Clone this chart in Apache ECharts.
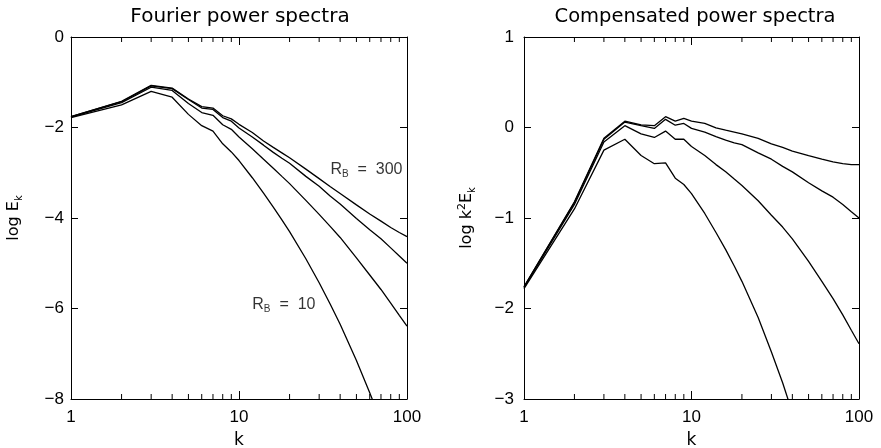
<!DOCTYPE html>
<html><head><meta charset="utf-8">
<script src="https://cdn.jsdelivr.net/npm/echarts@6/dist/echarts.min.js"></script>
<style>html,body{margin:0;padding:0;background:#fff}#c{width:881px;height:448px}</style>
</head><body><div id="c"></div>
<script>
// wavenumbers
const kValues = [1,2,3,4,5,6,7,8,9,10,12,14,16,18,20,25,30,35,40,50,60,70,80,90,100];
// Fourier power spectra, log E_k (top curve R_B = 300 ... bottom curve R_B = 10)
const logE_run1 = [-1.76,-1.42,-1.07,-1.13,-1.37,-1.54,-1.57,-1.74,-1.81,-1.93,-2.11,-2.30,-2.44,-2.56,-2.67,-2.92,-3.13,-3.31,-3.46,-3.71,-3.91,-4.07,-4.21,-4.32,-4.41];
const logE_run2 = [-1.76,-1.43,-1.08,-1.14,-1.38,-1.57,-1.60,-1.78,-1.86,-2.01,-2.21,-2.39,-2.55,-2.68,-2.79,-3.08,-3.30,-3.52,-3.69,-4.01,-4.26,-4.46,-4.66,-4.84,-5.00];
const logE_run3 = [-1.77,-1.45,-1.11,-1.18,-1.47,-1.67,-1.73,-1.94,-2.04,-2.21,-2.47,-2.70,-2.90,-3.08,-3.24,-3.61,-3.92,-4.19,-4.43,-4.88,-5.26,-5.58,-5.88,-6.15,-6.39];
const logE_run4 = [-1.78,-1.50,-1.20,-1.33,-1.71,-1.96,-2.08,-2.36,-2.54,-2.73,-3.11,-3.45,-3.76,-4.04,-4.30,-4.90,-5.43,-5.91,-6.35,-7.15,-7.86,-8.50];
// Compensated power spectra, log k^2 E_k
const logK2E_run1 = [-1.76,-0.82,-0.12,0.07,0.03,0.02,0.12,0.07,0.10,0.07,0.045,-0.005,-0.03,-0.05,-0.07,-0.12,-0.18,-0.22,-0.26,-0.31,-0.35,-0.38,-0.40,-0.41,-0.41];
const logK2E_run2 = [-1.76,-0.83,-0.13,0.06,0.02,-0.01,0.09,0.025,0.045,-0.01,-0.05,-0.10,-0.14,-0.17,-0.19,-0.28,-0.35,-0.43,-0.49,-0.61,-0.70,-0.77,-0.85,-0.93,-1.00];
const logK2E_run3 = [-1.77,-0.85,-0.16,0.02,-0.07,-0.11,-0.04,-0.13,-0.13,-0.21,-0.31,-0.41,-0.49,-0.57,-0.64,-0.81,-0.97,-1.10,-1.23,-1.48,-1.70,-1.89,-2.07,-2.24,-2.39];
const logK2E_run4 = [-1.78,-0.90,-0.25,-0.13,-0.31,-0.40,-0.39,-0.56,-0.63,-0.73,-0.95,-1.16,-1.35,-1.53,-1.70,-2.10,-2.48,-2.82,-3.15,-3.75,-4.30,-4.81];
// axis ticks
const leftYTicks = [-8,-6,-4,-2,0];
const rightYTicks = [-3,-2,-1,0,1];
const minorTickK = [2,3,4,5,6,7,8,9,20,30,40,50,60,70,80,90];
const titles = ['Fourier power spectra', 'Compensated power spectra'];

const NUM_FONT = 'Liberation Sans';
const TXT_FONT = 'DejaVu Sans';
const pairs = (vals) => vals.map((v, i) => [kValues[i], v]);
const fmtY = (v) => (v < 0 ? '\u2212' + (-v) : '' + v);

function xAxes(grid, top) {
  return {
    gridIndex: grid, type: 'log', logBase: 10, min: 1, max: 100,
    position: top ? 'top' : 'bottom',
    axisLine: { onZero: false, lineStyle: { color: '#000', width: 1 } },
    axisTick: { inside: true, length: 8, lineStyle: { color: '#000', width: 1 } },
    axisLabel: { show: !top, color: '#000', fontSize: 17, fontFamily: NUM_FONT, margin: 10,
      formatter: (v) => '' + Math.round(v) },
    splitLine: { show: false },
    name: top ? '' : 'k', nameLocation: 'middle', nameGap: 33,
    nameTextStyle: { color: '#000', fontSize: 17, fontFamily: TXT_FONT }
  };
}
function yAxes(grid, right, ticks, margin, name, rich, gap) {
  return {
    gridIndex: grid, type: 'value', min: ticks[0], max: ticks[ticks.length - 1],
    interval: ticks[1] - ticks[0], position: right ? 'right' : 'left',
    axisLine: { show: true, onZero: false, lineStyle: { color: '#000', width: 1 } },
    axisTick: { show: true, inside: true, length: 7, lineStyle: { color: '#000', width: 1 } },
    axisLabel: { show: !right, color: '#000', fontSize: 17, fontFamily: NUM_FONT, margin: margin, formatter: fmtY },
    splitLine: { show: false },
    name: right ? '' : name, nameLocation: 'middle', nameGap: gap, nameRotate: 90,
    nameTextStyle: { color: '#000', fontSize: 16, fontFamily: TXT_FONT, rich: rich }
  };
}
function minorTicks(xi, yi, yMin, yMax) {
  return {
    type: 'custom', xAxisIndex: xi, yAxisIndex: yi, silent: true,
    data: minorTickK.map(k => [k, yMin]),
    renderItem: function (params, api) {
      const k = api.value(0);
      const b = api.coord([k, yMin]);
      const t = api.coord([k, yMax]);
      const style = { stroke: '#000', lineWidth: 1 };
      return { type: 'group', children: [
        { type: 'line', shape: { x1: b[0], y1: b[1], x2: b[0], y2: b[1] - 5 }, style: style },
        { type: 'line', shape: { x1: t[0], y1: t[1], x2: t[0], y2: t[1] + 5 }, style: style }
      ] };
    }
  };
}
function curve(vals, xi, yi) {
  return { type: 'line', xAxisIndex: xi, yAxisIndex: yi, data: pairs(vals), symbol: 'none',
    lineStyle: { color: '#000', width: 1.3 }, clip: true, silent: true, animation: false };
}
const richName = {
  n: { fontSize: 16, fontFamily: TXT_FONT, color: '#000', lineHeight: 20 },
  sub: { fontSize: 10, fontFamily: TXT_FONT, color: '#000', verticalAlign: 'bottom', lineHeight: 12 },
  sup: { fontSize: 11, fontFamily: TXT_FONT, color: '#000', verticalAlign: 'top', lineHeight: 12 }
};
const richLab = {
  n: { fontSize: 16, fontFamily: NUM_FONT, color: '#000', lineHeight: 19 },
  sub: { fontSize: 10, fontFamily: NUM_FONT, color: '#000', verticalAlign: 'bottom', lineHeight: 10 }
};
function annot(k, v, text) {
  return { type: 'scatter', xAxisIndex: 0, yAxisIndex: 0, symbolSize: 0, silent: true,
    data: [[k, v]],
    label: { show: true, position: 'right', distance: 0, color: '#000', formatter: text, rich: richLab } };
}

const option = {
  animation: false,
  backgroundColor: '#fff',
  title: [
    { text: titles[0], left: 235, top: 2, textAlign: 'center',
      textStyle: { color: '#000', fontSize: 20, fontWeight: 'normal', fontFamily: TXT_FONT } },
    { text: titles[1], left: 690, top: 2, textAlign: 'center',
      textStyle: { color: '#000', fontSize: 19.5, fontWeight: 'normal', fontFamily: TXT_FONT } }
  ],
  grid: [
    { left: 71, top: 37, width: 336, height: 362, outerBoundsMode: 'none' },
    { left: 524, top: 37, width: 335, height: 362, outerBoundsMode: 'none' }
  ],
  xAxis: [xAxes(0, false), xAxes(0, true), xAxes(1, false), xAxes(1, true)],
  yAxis: [
    yAxes(0, false, leftYTicks, 7, '{n|log E}{sub|k}', richName, 47),
    yAxes(0, true, leftYTicks, 7, '', richName, 0),
    yAxes(1, false, rightYTicks, 10, '{n|log k}{sup|2}{n|E}{sub|k}', richName, 47),
    yAxes(1, true, rightYTicks, 10, '', richName, 0)
  ],
  series: [
    curve(logE_run1, 0, 0), curve(logE_run2, 0, 0), curve(logE_run3, 0, 0), curve(logE_run4, 0, 0),
    curve(logK2E_run1, 2, 2), curve(logK2E_run2, 2, 2), curve(logK2E_run3, 2, 2), curve(logK2E_run4, 2, 2),
    minorTicks(0, 0, leftYTicks[0], leftYTicks[leftYTicks.length - 1]),
    minorTicks(2, 2, rightYTicks[0], rightYTicks[rightYTicks.length - 1]),
    annot(35, -2.94, '{n|R}{sub|B}{n|  =  300}'),
    annot(12, -5.92, '{n|R}{sub|B}{n|  =  10}')
  ]
};
const chart = echarts.init(document.getElementById('c'), null, { renderer: 'canvas' });
chart.setOption(option);
</script></body></html>
